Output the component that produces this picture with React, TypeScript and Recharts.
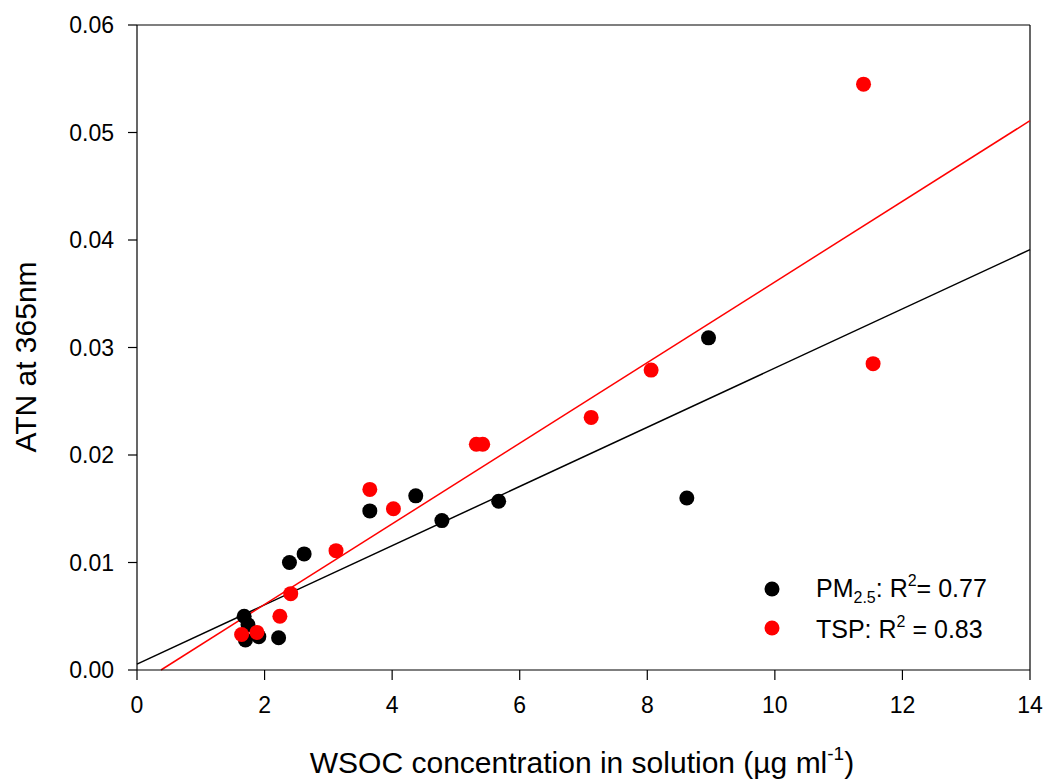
import React from 'react';
import { ScatterChart, Scatter, XAxis, YAxis, ReferenceLine } from 'recharts';

const pm25X = [1.68, 1.74, 1.70, 1.91, 2.22, 2.39, 2.62, 3.65, 4.37, 4.78, 5.67, 8.62, 8.96];
const pm25Y = [0.0050, 0.0042, 0.0028, 0.0031, 0.0030, 0.0100, 0.0108, 0.0148, 0.0162, 0.0139, 0.0157, 0.0160, 0.0309];
const tspX = [1.64, 1.88, 2.24, 2.41, 3.12, 3.65, 4.02, 5.32, 5.42, 7.12, 8.06, 11.39, 11.54];
const tspY = [0.0033, 0.0035, 0.0050, 0.0071, 0.0111, 0.0168, 0.0150, 0.0210, 0.0210, 0.0235, 0.0279, 0.0545, 0.0285];

const pmFit = [{ x: 0, y: 0.00055 }, { x: 14, y: 0.0391 }];
const tspFit = [{ x: 0.376, y: 0 }, { x: 14, y: 0.0511 }];

const xTicks = [0, 2, 4, 6, 8, 10, 12, 14];
const yTicks = [0, 0.01, 0.02, 0.03, 0.04, 0.05, 0.06];

const pmData = pm25X.map((x, i) => ({ x, y: pm25Y[i] }));
const tspData = tspX.map((x, i) => ({ x, y: tspY[i] }));

const FONT = 'Arial, "Liberation Sans", sans-serif';

const Dot = (color: string) => (props: any) => (
  <circle cx={props.cx} cy={props.cy} r={7.5} fill={color} />
);

export default function App() {
  return (
    <div style={{ position: 'absolute', left: 0, top: 0, width: 1048, height: 782, background: '#fff', fontFamily: FONT }}>
      <ScatterChart width={1048} height={782} margin={{ top: 25, right: 18, bottom: 0, left: 0 }}>
        <XAxis
          type="number"
          dataKey="x"
          domain={[0, 14]}
          ticks={xTicks}
          height={112}
          tickSize={10}
          tickMargin={17}
          stroke="#000"
          tick={{ fill: '#000', fontSize: 23, fontFamily: FONT }}
          axisLine={{ stroke: '#000', strokeWidth: 1.2 }}
          tickLine={{ stroke: '#000', strokeWidth: 1.2 }}
          allowDataOverflow
        />
        <YAxis
          type="number"
          dataKey="y"
          domain={[0, 0.06]}
          ticks={yTicks}
          width={137}
          tickSize={9}
          tickMargin={14}
          tickFormatter={(v: number) => v.toFixed(2)}
          stroke="#000"
          tick={{ fill: '#000', fontSize: 23, fontFamily: FONT }}
          axisLine={{ stroke: '#000', strokeWidth: 1.2 }}
          tickLine={{ stroke: '#000', strokeWidth: 1.2 }}
          allowDataOverflow
        />
        <ReferenceLine y={0.06} stroke="#000" strokeWidth={1.2} />
        <ReferenceLine x={14} stroke="#000" strokeWidth={1.2} />
        <ReferenceLine segment={pmFit} stroke="#000" strokeWidth={1.5} />
        <ReferenceLine segment={tspFit} stroke="#ff0000" strokeWidth={1.5} />
        <Scatter data={pmData} fill="#000" shape={Dot('#000')} isAnimationActive={false} />
        <Scatter data={tspData} fill="#ff0000" shape={Dot('#ff0000')} isAnimationActive={false} />
      </ScatterChart>
      <svg width={1048} height={782} style={{ position: 'absolute', left: 0, top: 0, pointerEvents: 'none' }} fontFamily={FONT}>
        <text transform="translate(36,357) rotate(-90)" textAnchor="middle" fontSize={30} fill="#000">ATN at 365nm</text>
        <text x={582} y={773} textAnchor="middle" fontSize={30} fill="#000">
          WSOC concentration in solution (µg ml<tspan fontSize={19} dy={-13}>-1</tspan><tspan dy={13}>)</tspan>
        </text>
        <circle cx={772} cy={589} r={7.5} fill="#000" />
        <circle cx={772} cy={628} r={7.5} fill="#ff0000" />
        <text x={816} y={597} fontSize={25} fill="#000">
          PM<tspan fontSize={16} dy={6}>2.5</tspan><tspan dy={-6}>: R</tspan><tspan fontSize={16} dy={-11}>2</tspan><tspan dy={11}>= 0.77</tspan>
        </text>
        <text x={816} y={638} fontSize={25} fill="#000">
          TSP: R<tspan fontSize={16} dy={-11}>2</tspan><tspan dy={11}> = 0.83</tspan>
        </text>
      </svg>
    </div>
  );
}
